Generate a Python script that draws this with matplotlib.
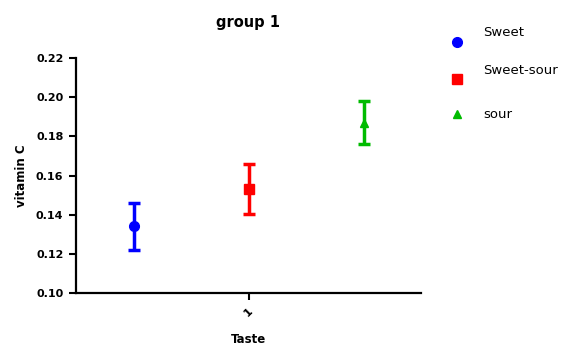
import matplotlib
matplotlib.use("Agg")
import matplotlib.pyplot as plt
from matplotlib.lines import Line2D

plt.rcParams['font.family'] = ['DejaVu Sans']

groups = ["Sweet", "Sweet-sour", "sour"]
means = [0.134, 0.153, 0.187]
errors = [0.012, 0.0128, 0.011]
offsets = [-1, 0, 1]
colors = ["#0000FF", "#FF0000", "#00BB00"]
markers = ["o", "s", "^"]
msizes = [7, 7, 6]
yticks = [0.10, 0.12, 0.14, 0.16, 0.18, 0.20, 0.22]
xtick_labels = ["1"]

fig = plt.figure(figsize=(5.76, 3.47), dpi=100)
ax = fig.add_axes([76/576, 54/347, 345/576, 235/347])

for x, m, e, c, mk, ms in zip(offsets, means, errors, colors, markers, msizes):
    ax.errorbar(x, m, yerr=e, fmt=mk, color=c, ecolor=c, elinewidth=2.5,
                capsize=4.5, capthick=2.5, markersize=ms, zorder=3)

ax.set_xlim(-1.5, 1.5)
ax.set_ylim(0.10, 0.22)
ax.set_yticks(yticks)
ax.set_yticklabels([f"{v:.2f}" for v in yticks], fontsize=8, fontweight='bold')
ax.set_xticks([0])
ax.set_xticklabels(xtick_labels, rotation=45, fontsize=8, fontweight='bold')
for s in ['top', 'right']:
    ax.spines[s].set_visible(False)
for s in ['left', 'bottom']:
    ax.spines[s].set_linewidth(1.6)
ax.tick_params(width=1.5, length=5, direction='out', pad=4)
ax.set_ylabel("vitamin C", fontsize=8.5, fontweight='bold', labelpad=6)
ax.set_xlabel("Taste", fontsize=8.5, fontweight='bold', labelpad=11)
ax.set_title("group 1", fontsize=10.5, fontweight='bold', pad=22)

# legend (Prism-style: label above-right of marker)
leg_y_marker = [42, 79, 114]
leg_y_text = [33, 71, 115]
for g, c, mk, ms, ym, yt in zip(groups, colors, markers, msizes, leg_y_marker, leg_y_text):
    fig.add_artist(Line2D([457/576], [1 - ym/347], marker=mk, color=c,
                          markersize=ms, linestyle='none', transform=fig.transFigure))
    fig.text(483/576, 1 - yt/347, g, fontsize=9.5, va='center', ha='left')

fig.savefig("out.png", dpi=100)
